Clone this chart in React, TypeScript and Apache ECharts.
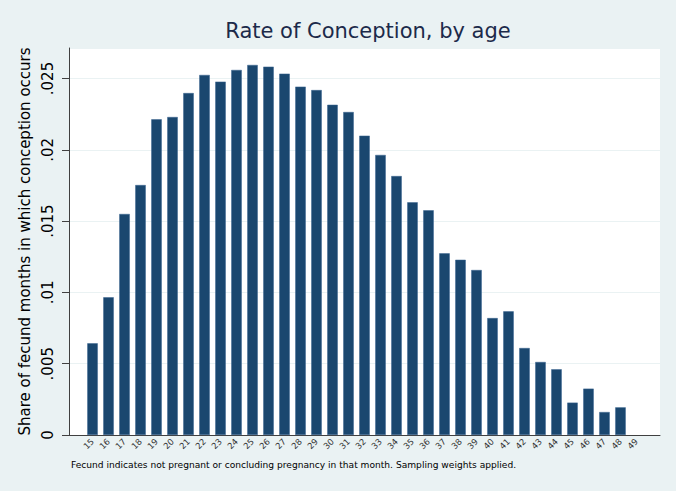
import React, { useEffect, useRef } from "react";
import * as echarts from "echarts";

const ages: number[] = [15,16,17,18,19,20,21,22,23,24,25,26,27,28,29,30,31,32,33,34,35,36,37,38,39,40,41,42,43,44,45,46,47,48,49];
const rates: (number | null)[] = [
  0.00643, 0.00966, 0.0155, 0.01753, 0.02214, 0.0223, 0.02398, 0.02525, 0.02478, 0.0256,
  0.02595, 0.02583, 0.02534, 0.02443, 0.02419, 0.02316, 0.02265, 0.02099, 0.01964, 0.01816,
  0.01632, 0.01576, 0.01274, 0.01229, 0.01157, 0.0082, 0.00867, 0.0061, 0.00512, 0.00461,
  0.00227, 0.00325, 0.00161, 0.00194, null,
];
const yTicks: number[] = [0, 0.005, 0.01, 0.015, 0.02, 0.025];
const titleText = "Rate of Conception, by age";
const yTitle = "Share of fecund months in which conception occurs";
const note = "Fecund indicates not pregnant or concluding pregnancy in that month. Sampling weights applied.";

const FONT = "DejaVu Sans";

export default function App() {
  const ref = useRef<HTMLDivElement>(null);
  useEffect(() => {
    if (!ref.current) return;
    const chart = echarts.init(ref.current, undefined, { renderer: "svg" });
    const fmt = (v: number) => (v === 0 ? "0" : String(Number(v.toFixed(3))).replace(/^0/, ""));
    chart.setOption({
      animation: false,
      backgroundColor: "#eaf2f3",
      textStyle: { fontFamily: FONT },
      title: {
        text: titleText,
        left: 363,
        textAlign: "center",
        top: 15,
        textStyle: { fontFamily: FONT, fontSize: 21, fontWeight: "normal", color: "#1c2a4a" },
      },
      grid: {
        left: 69,
        right: 16,
        top: 48,
        bottom: 56,
        show: true,
        backgroundColor: "#ffffff",
        borderWidth: 0,
        containLabel: false,
      },
      xAxis: {
        type: "value",
        min: 13.53,
        max: 50.47,
        splitLine: { show: false },
        axisTick: { show: false },
        axisLine: { show: true, lineStyle: { color: "#404040", width: 1 } },
        axisLabel: {
          customValues: ages,
          rotate: 45,
          fontSize: 8.5,
          color: "#333333",
          margin: 5,
          fontFamily: FONT,
        },
      },
      yAxis: {
        type: "value",
        min: 0,
        max: 0.02714,
        interval: 0.005,
        name: yTitle,
        nameLocation: "middle",
        nameRotate: 90,
        nameGap: 32,
        nameTextStyle: { fontFamily: FONT, fontSize: 15, color: "#000000" },
        axisLine: { show: true, lineStyle: { color: "#404040", width: 1 } },
        axisTick: { show: true, length: 7, lineStyle: { color: "#404040" } },
        splitLine: { show: true, lineStyle: { color: "#eaf2f3", width: 1 } },
        axisLabel: {
          rotate: 90,
          fontSize: 15,
          color: "#000000",
          margin: 14,
          showMaxLabel: false,
          fontFamily: FONT,
          formatter: (v: number) => (yTicks.some((t) => Math.abs(t - v) < 1e-9) ? fmt(v) : ""),
        },
      },
      series: [
        {
          type: "bar",
          data: ages.map((a, i) => [a, rates[i]]),
          barWidth: 10.5,
          itemStyle: { color: "#1a476f", borderColor: "#3a6590", borderWidth: 0.5 },
        },
      ],
      graphic: [
        {
          type: "text",
          left: 71,
          top: 460,
          style: { text: note, fontFamily: FONT, fontSize: 9.1, fill: "#000000" },
        },
      ],
    });
    return () => chart.dispose();
  }, []);
  return <div ref={ref} style={{ position: "fixed", left: 0, top: 0, width: 676, height: 491 }} />;
}
